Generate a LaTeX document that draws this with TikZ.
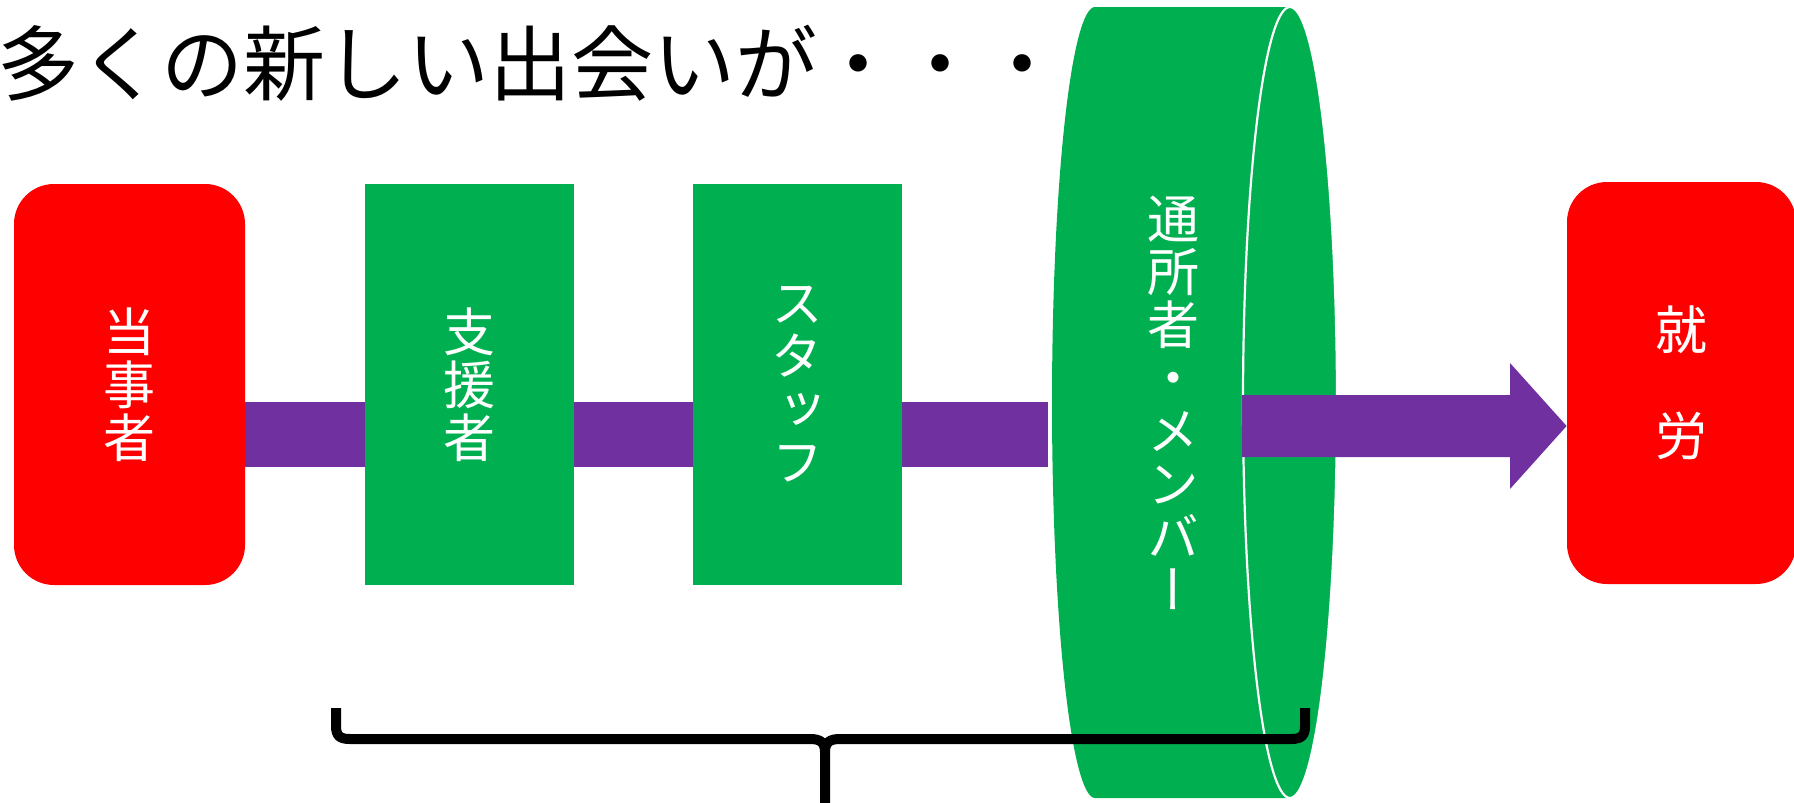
\documentclass[tikz,border=0pt]{standalone}
\usepackage{fontspec}
\newfontfamily\jp{Noto Sans CJK JP}
\newfontfamily\vjp[RawFeature=+vert]{Noto Sans CJK JP}
\definecolor{pred}{HTML}{FF0000}
\definecolor{pgreen}{HTML}{00B050}
\definecolor{ppurple}{HTML}{7030A0}
\begin{document}
\begin{tikzpicture}[x=0.5pt,y=-0.5pt,
  boxtext/.style={inner sep=0pt, align=center, text=white, font=\vjp\fontsize{26}{26.5}\selectfont},
  redbox/.style={boxtext, fill=pred, rounded corners=20pt},
  greenbox/.style={boxtext, fill=pgreen},
  pbar/.style={draw=ppurple, line width=32.5pt},
  bracestyle/.style={draw=black, line width=5pt, line join=round}]
\useasboundingbox (0,0) rectangle (1794,803);
\fill[white] (0,0) rectangle (1794,803);
\clip (0,0) rectangle (1794,803);

% title
\node[anchor=base west, inner sep=0pt, font=\jp\fontsize{41}{41}\selectfont] (title) at (-3,94) {多くの新しい出会いが・・・};

% left bar (connector)
\coordinate (barL) at (240,434.5);
\coordinate (barR) at (1048,434.5);
\draw[pbar] (barL) -- (barR);

% boxes
\node[redbox, minimum width=115.5pt, minimum height=200.5pt] (tojisha) at (129.5,384.5) {当\\事\\者};
\node[greenbox, minimum width=104.5pt, minimum height=200.5pt] (shiensha) at (469.5,384.5) {支\\援\\者};
\node[greenbox, minimum width=104.5pt, minimum height=200.5pt] (staff) at (797.5,384.5) {ス\\タ\\ッ\\フ};

% cylinder
\fill[pgreen] plot[domain=-90:90, samples=80, variable=\t] ({1095-43*cos(\t)}, {402.5+395.5*sin(\t)})
  -- plot[domain=-90:90, samples=80, variable=\t] ({1290+47*cos(\t)}, {402.5-395.5*sin(\t)}) -- cycle;
\draw[white, line width=1.1pt] plot[domain=0:360, samples=160, variable=\t] ({1290+47*cos(\t)}, {402.5+395.5*sin(\t)}) -- cycle;
\node[boxtext] (tsusho) at (1173,403) {通\\所\\者\\・\\メ\\ン\\バ\\ー};

% right box
\node[redbox, minimum width=114.5pt, minimum height=201pt] (shuro) at (1681.5,383) {就\\　\\労};

% right arrow
\coordinate (tip) at (shuro.west |- 0,426);
\fill[ppurple] (1242,395) -- (1510,395) -- (1510,363) -- (tip) -- (1510,489) -- (1510,457) -- (1242,457) -- cycle;

% brace
\draw[bracestyle] (336,708) -- (336,726) .. controls (336,736) and (340,739) .. (350,739) -- (810,739)
  .. controls (820,739) and (825,742) .. (825,752) -- (825,803);
\draw[bracestyle] (1305,708) -- (1305,726) .. controls (1305,736) and (1301,739) .. (1291,739) -- (840,739)
  .. controls (830,739) and (825,742) .. (825,752);
\end{tikzpicture}
\end{document}
